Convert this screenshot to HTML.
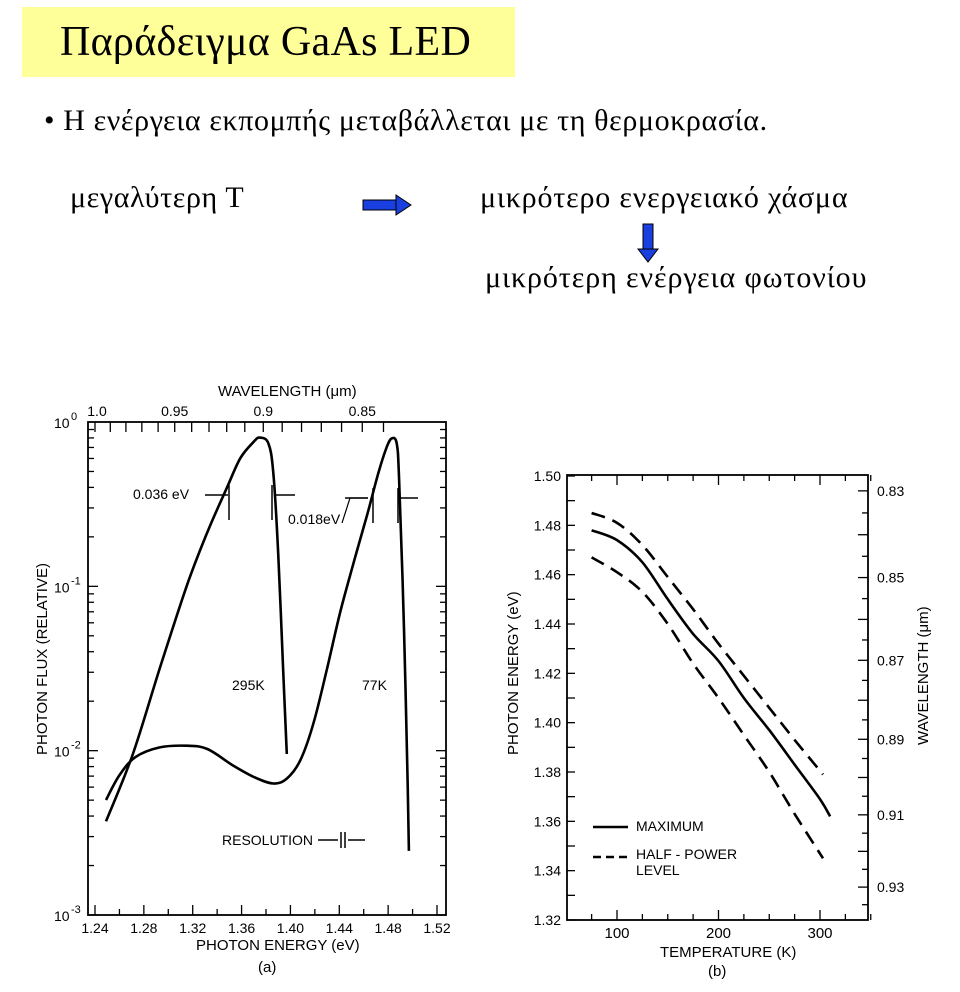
<!DOCTYPE html>
<html><head><meta charset="utf-8"><style>
body{margin:0;background:#fff;width:960px;height:992px;overflow:hidden;position:relative;font-family:"Liberation Serif",serif}
.t{position:absolute;white-space:nowrap;color:#000}
</style></head><body>
<div style="position:absolute;left:22px;top:7px;width:493px;height:70px;background:#ffff99"></div>
<div class="t" style="left:60px;top:18px;font-size:42px;letter-spacing:0.3px">Παράδειγμα GaAs LED</div>
<div class="t" style="left:44px;top:104px;font-size:30px;letter-spacing:0.6px">• Η ενέργεια εκπομπής μεταβάλλεται με τη θερμοκρασία.</div>
<div class="t" style="left:70px;top:181px;font-size:30px;letter-spacing:0.6px">μεγαλύτερη Τ</div>
<div class="t" style="left:480px;top:181px;font-size:30px;letter-spacing:0.8px">μικρότερο ενεργειακό χάσμα</div>
<div class="t" style="left:485px;top:261px;font-size:30px;letter-spacing:0.9px">μικρότερη ενέργεια φωτονίου</div>
<svg style="position:absolute;left:0;top:0" width="960" height="992">
<g><rect x="363" y="200" width="34" height="10" fill="#1a3fe0" stroke="#000" stroke-width="1"/><polygon points="396,195 411,205 396,215" fill="#1a3fe0" stroke="#000"/></g>
<g><rect x="643" y="224" width="10" height="26" fill="#1a3fe0" stroke="#000"/><polygon points="638,249 658,249 648,262" fill="#1a3fe0" stroke="#000"/></g>
<g id="ga" font-family="Liberation Sans, sans-serif" font-size="14"></g>
<g id="gb" font-family="Liberation Sans, sans-serif" font-size="14"></g>
</svg>
<script>
// Chart (a) data
const k295E=[1.249,1.271,1.293,1.315,1.332,1.348,1.359,1.370,1.375,1.382,1.386,1.390,1.394,1.397];
const k295L=[-2.43,-2.02,-1.50,-1.00,-0.67,-0.40,-0.22,-0.12,-0.095,-0.13,-0.31,-0.80,-1.50,-2.02];
const k77E=[1.249,1.260,1.273,1.293,1.315,1.332,1.353,1.370,1.386,1.397,1.408,1.419,1.430,1.441,1.452,1.463,1.472,1.479,1.483,1.487,1.489,1.493,1.496,1.497];
const k77L=[-2.30,-2.15,-2.04,-1.98,-1.97,-1.99,-2.09,-2.16,-2.20,-2.17,-2.06,-1.83,-1.50,-1.15,-0.85,-0.56,-0.31,-0.15,-0.10,-0.13,-0.35,-1.26,-2.21,-2.61];
const aXTicks=["1.24","1.28","1.32","1.36","1.40","1.44","1.48","1.52"];
const aWave=["1.0","0.95","0.9","0.85"];
// Chart (b) data
const temps=[75,100,125,150,175,200,225,250,275,300,310];
const maxE=[1.478,1.474,1.465,1.450,1.436,1.425,1.410,1.397,1.383,1.369,1.362];
const tempsH=[75,100,125,150,175,200,225,250,275,303];
const upperE=[1.485,1.481,1.472,1.459,1.446,1.432,1.419,1.406,1.393,1.379];
const lowerE=[1.467,1.461,1.453,1.440,1.424,1.410,1.395,1.380,1.363,1.345];
const bYTicks=["1.32","1.34","1.36","1.38","1.40","1.42","1.44","1.46","1.48","1.50"];
const bXTicks=["100","200","300"];
const bWave=["0.83","0.85","0.87","0.89","0.91","0.93"];

const NS="http://www.w3.org/2000/svg";
function mk(p,tag,at,txt){const e=document.createElementNS(NS,tag);for(const k in at)e.setAttribute(k,at[k]);if(txt!==undefined)e.textContent=txt;p.appendChild(e);return e;}
const ga=document.getElementById('ga'),gb=document.getElementById('gb');
const ax=e=>95+(e-1.24)*(342/0.28), ay=l=>422+(-l)*(493/3);
const AL=88,AR=446,AT=422,AB=915;
let r=mk(ga,'rect',{x:AL,y:AT,width:AR-AL,height:AB-AT,fill:'none',stroke:'#000','stroke-width':1.8});

for(let e=1.24;e<=1.521;e+=0.02){const x=ax(e),L=(Math.round(e*100)%4==0)?10:6;mk(ga,'line',{x1:x,y1:AB,x2:x,y2:AB-L,stroke:'#000','stroke-width':1.3});}
aXTicks.forEach(t=>{const x=ax(+t);const e=mk(ga,'text',{x:x,y:AB+18,'text-anchor':'middle'},t);});
for(let w=1.0;w>=0.835;w-=0.01){const x=ax(1.24/w);if(x<AR)mk(ga,'line',{x1:x,y1:AT,x2:x,y2:AT+10,stroke:'#000','stroke-width':1.3});}
aWave.forEach(t=>{const x=ax(1.24/+t);const e=mk(ga,'text',{x:x+(t=="1.0"?2:0),y:AT-6,'text-anchor':'middle'},t);});
for(let d=0;d<3;d++)for(let m=1;m<=9;m++){const y=ay(-d-1+Math.log10(m));const L=m==1?10:6;mk(ga,'line',{x1:AL,y1:y,x2:AL+L,y2:y,stroke:'#000','stroke-width':1.3});mk(ga,'line',{x1:AR,y1:y,x2:AR-L,y2:y,stroke:'#000','stroke-width':1.3});}
[0,-1,-2,-3].forEach(p=>{const y=ay(p);const e=mk(ga,'text',{x:54,y:y+6},'10');mk(ga,'text',{x:71,y:y-2,'font-size':11},p==0?'0':String(p));});
function curve(g,xs,ys,fx,fy,name,dash){
  const P=xs.map((v,i)=>[fx(v),fy(ys[i])]);
  let d='M'+P[0][0].toFixed(1)+','+P[0][1].toFixed(1);
  for(let i=0;i<P.length-1;i++){const p0=P[Math.max(0,i-1)],p1=P[i],p2=P[i+1],p3=P[Math.min(P.length-1,i+2)];
    const c1=[p1[0]+(p2[0]-p0[0])/6,p1[1]+(p2[1]-p0[1])/6],c2=[p2[0]-(p3[0]-p1[0])/6,p2[1]-(p3[1]-p1[1])/6];
    d+=' C'+c1[0].toFixed(1)+','+c1[1].toFixed(1)+' '+c2[0].toFixed(1)+','+c2[1].toFixed(1)+' '+p2[0].toFixed(1)+','+p2[1].toFixed(1);}
  const p=mk(g,'path',{d:d,fill:'none',stroke:'#000','stroke-width':2.6,'stroke-linejoin':'round'});if(dash)p.setAttribute('stroke-dasharray',dash);}
curve(ga,k295E,k295L,ax,ay,'curve-295k');
curve(ga,k77E,k77L,ax,ay,'curve-77k');
const lab=(g,x,y,t,n,extra)=>{const e=mk(g,'text',Object.assign({x:x,y:y},extra||{}),t);};
lab(ga,218,396,'WAVELENGTH (μm)','x2-axis-title',{'font-size':15});
lab(ga,196,950,'PHOTON ENERGY (eV)','x-axis-title',{'font-size':15});
lab(ga,258,972,'(a)','panel-a-label',{'font-size':15});
lab(ga,47,755,'PHOTON FLUX (RELATIVE)','y-axis-title',{transform:'rotate(-90 47 755)','font-size':15});
lab(ga,232,690,'295K','label-295k');lab(ga,362,690,'77K','label-77k');
lab(ga,133,499,'0.036 eV','fwhm-295k');lab(ga,288,524,'0.018eV','fwhm-77k');
lab(ga,222,845,'RESOLUTION','resolution-label');
[[205,495,228,495],[295,495,274,495],[345,498,368,498],[418,498,400,498],[318,840,338,840],[365,840,348,840]].forEach(a=>{mk(ga,'line',{x1:a[0],y1:a[1],x2:a[2],y2:a[3],stroke:'#000','stroke-width':1.5});});
[[229,485,229,520],[272,485,272,520],[373,488,373,523],[398,488,398,523],[341,832,341,848],[345,832,345,848]].forEach(a=>mk(ga,'line',{x1:a[0],y1:a[1],x2:a[2],y2:a[3],stroke:'#000','stroke-width':1.5}));
mk(ga,'polyline',{points:'342,523 350,498 368,498',fill:'none',stroke:'#000','stroke-width':1.2});
// --- chart b
const bx=t=>617+(t-100)*1.015, by=e=>476+(1.50-e)*(444/0.18);
const BL=567,BR=868,BT=475,BB=920;
r=mk(gb,'rect',{x:BL,y:BT,width:BR-BL,height:BB-BT,fill:'none',stroke:'#000','stroke-width':1.8});

for(let t=75;t<=350;t+=25){const x=bx(t);const L=t%100==0?10:6;mk(gb,'line',{x1:x,y1:BB,x2:x,y2:BB-L,stroke:'#000','stroke-width':1.3});mk(gb,'line',{x1:x,y1:BT,x2:x,y2:BT+L,stroke:'#000','stroke-width':1.3});}
bXTicks.forEach(t=>lab(gb,bx(+t),BB+18,t,'x-tick-label',{'text-anchor':'middle','font-size':15}));
for(let e=1.32;e<=1.501;e+=0.01){const y=by(e);mk(gb,'line',{x1:BL,y1:y,x2:BL+8,y2:y,stroke:'#000','stroke-width':1.3});}
bYTicks.forEach(t=>lab(gb,BL-6,by(+t)+5,t,'y-tick-label',{'text-anchor':'end'}));
for(let w=0.83;w<=0.935;w+=0.005){const y=by(1.24/w);mk(gb,'line',{x1:BR,y1:y,x2:BR-(Math.round(w*1000)%10==0?10:6),y2:y,stroke:'#000','stroke-width':1.3});}
bWave.forEach(t=>lab(gb,BR+9,by(1.24/+t)+5,t,'wavelength-tick-label'));
curve(gb,temps,maxE,bx,by,'curve-maximum');
curve(gb,tempsH,upperE,bx,by,'curve-half-power-upper','14,8');
curve(gb,tempsH,lowerE,bx,by,'curve-half-power-lower','14,8');
mk(gb,'line',{x1:593,y1:827,x2:628,y2:827,stroke:'#000','stroke-width':2.6});
mk(gb,'line',{x1:593,y1:857,x2:628,y2:857,stroke:'#000','stroke-width':2.6,'stroke-dasharray':'8,5'});
lab(gb,636,831,'MAXIMUM','legend-maximum');
lab(gb,636,859,'HALF - POWER','legend-half-power');lab(gb,636,875,'LEVEL','legend-level');
lab(gb,660,957,'TEMPERATURE (K)','x-axis-title',{'font-size':15});
lab(gb,708,976,'(b)','panel-b-label',{'font-size':15});
lab(gb,518,755,'PHOTON ENERGY (eV)','y-axis-title',{transform:'rotate(-90 518 755)','font-size':15});
lab(gb,928,745,'WAVELENGTH (μm)','y2-axis-title',{transform:'rotate(-90 928 745)','font-size':15});
</script>
</body></html>
